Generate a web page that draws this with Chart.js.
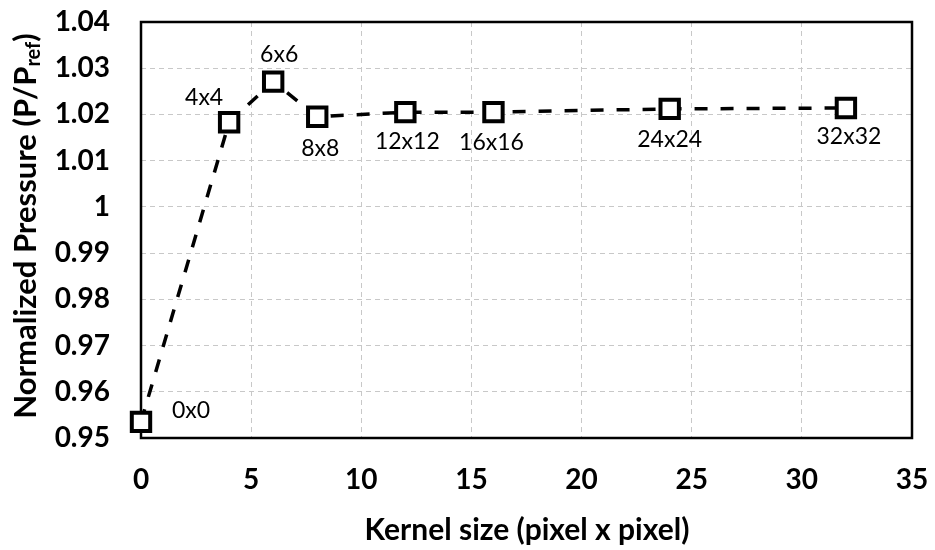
<!DOCTYPE html>
<html>
<head>
<meta charset="UTF-8">
<title>Kernel size vs normalized pressure</title>
<script src="https://cdn.jsdelivr.net/npm/chart.js@4"></script>
<style>
  html, body { margin: 0; padding: 0; background: #fff; }
  #wrap { width: 935px; height: 550px; }
</style>
</head>
<body>
<div id="wrap"><canvas id="chart"></canvas></div>
<script>
// data
var kernelSize = [0, 4, 6, 8, 12, 16, 24, 32];
var pressure = [0.9535, 1.0183, 1.0271, 1.0195, 1.0205, 1.0205, 1.0212, 1.0214];
var pointLabels = ['0x0', '4x4', '6x6', '8x8', '12x12', '16x16', '24x24', '32x32'];
// label offsets from marker centre (px)
var labelDx = [31, -25, 6, 3, 2, -2, 0, 3];
var labelDy = [-11, -25, -27, 32, 29, 30, 31, 29];

var FONT = 'Lato, "Open Sans", sans-serif';

var labelPlugin = {
  id: 'extras',
  beforeDatasetsDraw: function (chart) {
    var a = chart.chartArea, ctx = chart.ctx;
    ctx.save();
    ctx.strokeStyle = '#000';
    ctx.lineWidth = 2.5;
    ctx.strokeRect(a.left, a.top, a.right - a.left, a.bottom - a.top);
    ctx.restore();
  },
  afterDraw: function (chart) {
    var ctx = chart.ctx, meta = chart.getDatasetMeta(0);
    ctx.save();
    ctx.fillStyle = '#000';
    ctx.font = '23px ' + FONT;
    ctx.textBaseline = 'middle';
    meta.data.forEach(function (pt, i) {
      ctx.textAlign = i === 0 ? 'left' : 'center';
      ctx.fillText(pointLabels[i], pt.x + labelDx[i], pt.y + labelDy[i]);
    });

    // x axis title
    ctx.font = 'bold 30px ' + FONT;
    ctx.textAlign = 'center';
    ctx.fillText('Kernel size (pixel x pixel)', 527, 530);

    // y axis title with subscript
    ctx.translate(26, 226);
    ctx.rotate(-Math.PI / 2);
    var main = 'Normalized Pressure (P/P', sub = 'ref', end = ')';
    ctx.font = 'bold 31px ' + FONT;
    var w1 = ctx.measureText(main).width, w3 = ctx.measureText(end).width;
    ctx.font = 'bold 20px ' + FONT;
    var w2 = ctx.measureText(sub).width;
    var x0 = -(w1 + w2 + w3) / 2;
    ctx.textAlign = 'left';
    ctx.font = 'bold 31px ' + FONT;
    ctx.fillText(main, x0, 0);
    ctx.font = 'bold 20px ' + FONT;
    ctx.fillText(sub, x0 + w1, 8);
    ctx.font = 'bold 31px ' + FONT;
    ctx.fillText(end, x0 + w1 + w2, 0);
    ctx.restore();
  }
};

new Chart(document.getElementById('chart'), {
  type: 'scatter',
  data: {
    datasets: [{
      data: kernelSize.map(function (k, i) { return { x: k, y: pressure[i] }; }),
      showLine: true,
      clip: false,
      borderColor: '#000',
      borderWidth: 3.5,
      borderDash: [13, 13],
      pointStyle: 'rect',
      pointRadius: 13,
      pointBorderWidth: 4,
      pointBackgroundColor: '#fff',
      pointBorderColor: '#000'
    }]
  },
  options: {
    responsive: true,
    maintainAspectRatio: false,
    animation: false,
    layout: { padding: { top: 22, right: 23, left: 0, bottom: 0 } },
    plugins: { legend: { display: false }, tooltip: { enabled: false } },
    scales: {
      x: {
        type: 'linear',
        min: 0, max: 35,
        ticks: { stepSize: 5, color: '#000', padding: 25, font: { family: FONT, size: 28, weight: 'bold' } },
        grid: { color: '#c8c8c8', drawTicks: false },
        border: { display: false, dash: [5, 4] },
        afterFit: function (s) { s.height = 112; s.paddingLeft = 0; s.paddingRight = 0; }
      },
      y: {
        min: 0.95, max: 1.04,
        ticks: {
          stepSize: 0.01, color: '#000', padding: 31,
          font: { family: FONT, size: 28, weight: 'bold' },
          callback: function (v) { return String(Number(v.toFixed(2))); }
        },
        grid: { color: '#c8c8c8', drawTicks: false },
        border: { display: false, dash: [5, 4] },
        afterFit: function (s) { s.width = 141; s.paddingTop = 0; s.paddingBottom = 0; }
      }
    }
  },
  plugins: [labelPlugin]
});
</script>
</body>
</html>
